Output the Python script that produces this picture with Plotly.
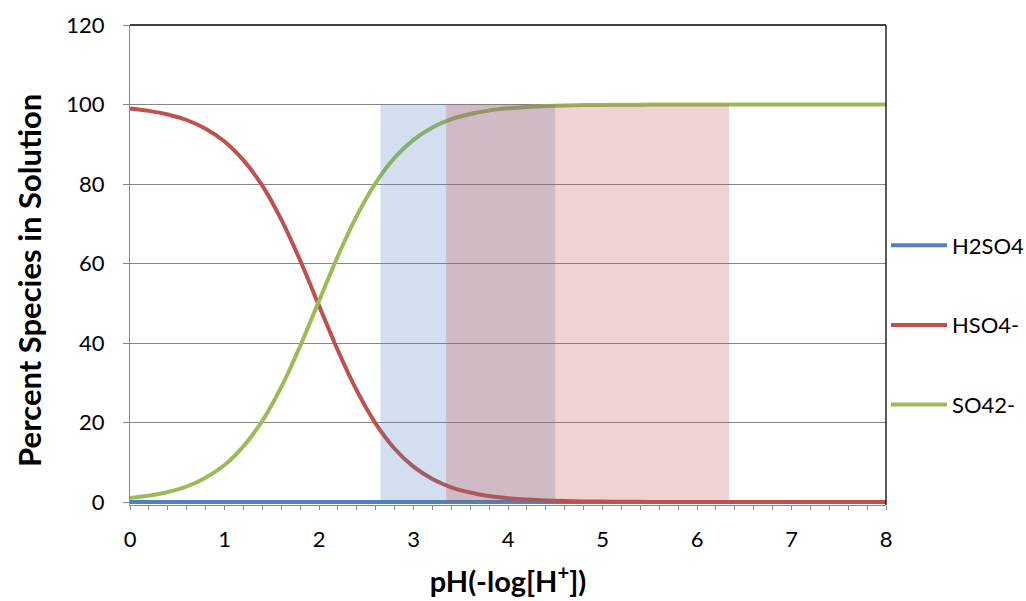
import plotly.graph_objects as go

# pH samples (every 0.2 units)
ph = [round(i * 0.2, 1) for i in range(41)]

# Percent of each sulfate species at the sampled pH values
h2so4 = [0.0] * 41
hso4 = [98.99, 98.4, 97.5, 96.1, 93.9, 90.7, 86.0, 79.6, 71.1, 60.8,
        49.4, 38.1, 28.0, 19.7, 13.4, 8.9, 5.8, 3.7, 2.4, 1.5,
        0.97, 0.61, 0.39, 0.24, 0.15, 0.10, 0.06, 0.04, 0.02, 0.02,
        0.01, 0.01, 0.0, 0.0, 0.0, 0.0, 0.0, 0.0, 0.0, 0.0, 0.0]
so4 = [1.01, 1.6, 2.5, 3.9, 6.1, 9.3, 14.0, 20.4, 28.9, 39.2,
       50.6, 61.9, 72.0, 80.3, 86.6, 91.1, 94.2, 96.3, 97.6, 98.5,
       99.03, 99.39, 99.61, 99.76, 99.85, 99.90, 99.94, 99.96, 99.98, 99.98,
       99.99, 99.99, 100.0, 100.0, 100.0, 100.0, 100.0, 100.0, 100.0, 100.0, 100.0]

series_names = ["H2SO4", "HSO4-", "SO42-"]
series_values = [h2so4, hso4, so4]
series_colors = ["#4F81BD", "#C0504D", "#9BBB59"]

# Highlighted pH windows (start, end) and their fill colours
band_ranges = [(2.65, 4.5), (3.345, 6.34)]
band_colors = ["rgba(79,129,189,0.25)", "rgba(192,80,77,0.25)"]
band_top = 100

x_ticks = list(range(0, 9))
y_ticks = list(range(0, 121, 20))

# small headroom below zero so the 0% lines are drawn at full width
Y_MIN = -0.755

FONT = "Lato, 'Liberation Sans', sans-serif"

fig = go.Figure()
for name, vals, col in zip(series_names, series_values, series_colors):
    fig.add_trace(go.Scatter(
        x=ph, y=vals, name=name, mode="lines",
        line=dict(color=col, width=4, shape="spline", smoothing=0.6),
        legendgroup=name,
    ))

shapes = []
for (x0, x1), col in zip(band_ranges, band_colors):
    shapes.append(dict(type="rect", xref="x", yref="y", x0=x0, x1=x1, y0=0, y1=band_top,
                       fillcolor=col, line=dict(width=0), layer="above"))
# plot-area border on the top and right
shapes.append(dict(type="line", xref="paper", yref="paper", x0=0, x1=1, y0=1, y1=1,
                   line=dict(color="black", width=1.3)))
shapes.append(dict(type="line", xref="paper", yref="paper", x0=1, x1=1, y0=0, y1=1,
                   line=dict(color="black", width=1.3)))

fig.update_layout(
    width=1026, height=601,
    margin=dict(l=130, r=140, t=25, b=96, autoexpand=False),
    paper_bgcolor="white", plot_bgcolor="white",
    font=dict(family=FONT, size=22, color="black"),
    shapes=shapes,
    annotations=[dict(
        text="<b>Percent Species in Solution</b>", textangle=-90,
        xref="paper", yref="paper", x=-0.1336, y=0.469,
        xanchor="center", yanchor="middle", showarrow=False,
        font=dict(size=31),
    )],
    showlegend=True,
    legend=dict(x=1.0, xanchor="left", y=0.375, yanchor="middle",
                font=dict(size=22), tracegroupgap=48, itemwidth=56,
                bgcolor="rgba(0,0,0,0)"),
    xaxis=dict(
        range=[0, 8], tickvals=x_ticks, ticktext=[str(v) for v in x_ticks],
        showgrid=False, zeroline=False,
        showline=True, linecolor="#868686", linewidth=1,
        ticks="outside", ticklen=4, tickcolor="#868686",
        minor=dict(dtick=0.2, ticks="outside", ticklen=4, tickcolor="#868686"),
        ticklabelstandoff=11,
        title=dict(text="<b>pH(-log[H<sup>+</sup>])</b>", font=dict(size=29), standoff=20),
        tickfont=dict(size=22),
    ),
    yaxis=dict(
        range=[Y_MIN, 120], tickvals=y_ticks,
        showgrid=True, gridcolor="#868686", gridwidth=1, zeroline=False,
        showline=True, linecolor="#868686", linewidth=1,
        ticks="outside", ticklen=6, tickcolor="#868686",
        ticklabelstandoff=14,
        tickfont=dict(size=22),
    ),
)

fig.write_html("out.html")
